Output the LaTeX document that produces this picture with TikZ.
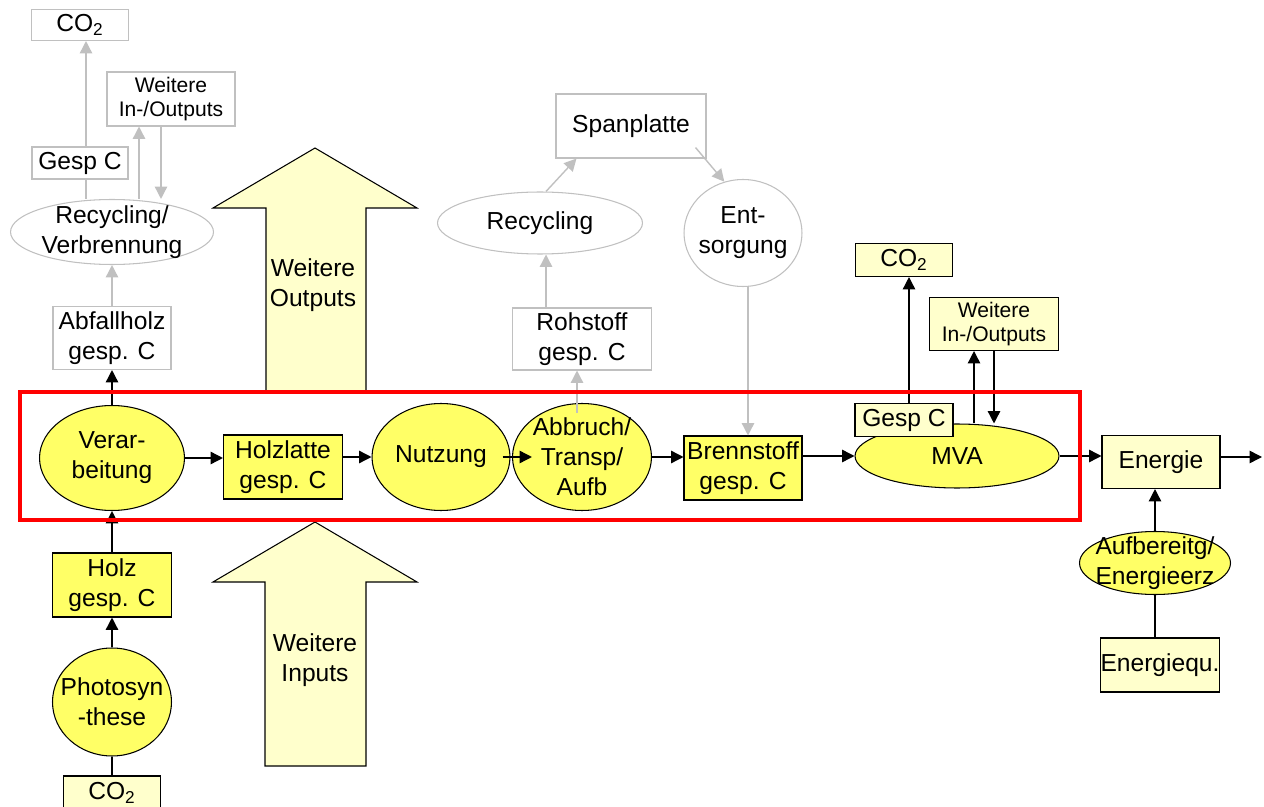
\documentclass[tikz,border=0pt]{standalone}
\usepackage{fontspec}
\setmainfont{Liberation Sans}
\usepackage{xcolor}
\usepackage{tikz}
\usetikzlibrary{arrows.meta,shapes.geometric}

\definecolor{hellgelb}{HTML}{FFFFCC}
\definecolor{gelb}{HTML}{FFFF66}
\definecolor{grau}{HTML}{C0C0C0}

\begin{document}
\begin{tikzpicture}[x=0.02cm,y=-0.02cm,>={Triangle[length=7pt,width=7pt]},
  every node/.style={font=\fontsize{14}{17}\selectfont,align=center,inner sep=0pt},
  grbox/.style={draw=grau,line width=0.6pt,fill=white,rectangle},
  grell/.style={draw=grau,line width=0.6pt,fill=white,ellipse},
  gbox/.style={draw=black,line width=0.6pt,fill=gelb,rectangle},
  gell/.style={draw=black,line width=0.6pt,fill=gelb,ellipse},
  hbox/.style={draw=black,line width=0.6pt,fill=hellgelb,rectangle},
  klein/.style={font=\fontsize{12}{14}\selectfont},
  pf/.style={->,line width=0.8pt},
  grpf/.style={->,draw=grau,line width=0.8pt}]
\useasboundingbox (0,0) rectangle (1264,807);
\clip (0,0) rectangle (1264,807);
% grosse Pfeile
\draw[fill=hellgelb,line width=0.6pt] (266,392)--(266,208)--(213,208)--(315,148)--(417,208)--(366,208)--(366,392)--cycle;
\draw (313,285) node (outtxt) {Weitere\\Outputs};
\draw[fill=hellgelb,line width=0.6pt] (265,766)--(265,582)--(213,582)--(315,522)--(417,582)--(366,582)--(366,766)--cycle;
\draw (315,660) node (intxt) {Weitere\\Inputs};
% oben links (grau)
\draw (80,25) node (co2a) [grbox,minimum width=1.94cm,minimum height=0.62cm] {CO\textsubscript{2}};
\draw (171,99) node (weia) [grbox,klein,minimum width=2.56cm,minimum height=1.08cm] {Weitere\\In-/Outputs};
\draw (80,163) node (gespa) [grbox,minimum width=1.92cm,minimum height=0.64cm] {Gesp C};
\draw (112,232) node (recyclA) [grell,minimum width=4.06cm,minimum height=1.3cm,label={center:Recycling/\\Verbrennung}] {};
\draw (112,338) node (abfall) [grbox,minimum width=2.36cm,minimum height=1.26cm] {Abfallholz\\gesp. C};
% oben Mitte (grau)
\draw (631,126) node (spanpl) [grbox,minimum width=3cm,minimum height=1.28cm] {Spanplatte};
\draw (540,223) node (recyclB) [grell,minimum width=4.1cm,minimum height=1.24cm,label={center:Recycling}] {};
\draw (743,233) node (entsorg) [grell,minimum width=2.36cm,minimum height=2.14cm,label={center:Ent-\\sorgung}] {};
\draw (582,339) node (rohst) [grbox,minimum width=2.78cm,minimum height=1.24cm] {Rohstoff\\gesp. C};
% Hauptkette
\draw (112,458) node (verarb) [gell,minimum width=2.9cm,minimum height=2.1cm,label={center:Verar-\\beitung}] {};
\draw (283,467) node (holzl) [gbox,minimum width=2.38cm,minimum height=1.28cm] {Holzlatte\\gesp. C};
\draw (441,457) node (nutz) [gell,minimum width=2.76cm,minimum height=2.14cm,label={center:Nutzung}] {};
\draw (582,457) node (abbr) [gell,minimum width=2.78cm,minimum height=2.14cm,label={center:Abbruch/\\Transp/\\Aufb}] {};
\draw (743,468) node (brenn) [gbox,minimum width=2.36cm,minimum height=1.28cm] {Brennstoff\\gesp. C};
\draw (957,456) node (mva) [gell,minimum width=4.08cm,minimum height=1.28cm,label={center:MVA}] {};
\draw (904,420) node (gespb) [hbox,minimum width=1.96cm,minimum height=0.66cm] {Gesp C};
\draw (904,260) node (co2b) [hbox,minimum width=1.94cm,minimum height=0.66cm] {CO\textsubscript{2}};
\draw (994,324) node (weib) [hbox,klein,minimum width=2.58cm,minimum height=1.06cm] {Weitere\\In-/Outputs};
\draw (1161,462) node (energie) [hbox,minimum width=2.36cm,minimum height=1.06cm] {Energie};
\draw (1155,563) node (aufb) [gell,minimum width=3.02cm,minimum height=1.26cm,label={center:Aufbereitg/\\Energieerz}] {};
\draw (1160,665) node (energq) [hbox,minimum width=2.36cm,minimum height=1.08cm] {Energiequ.};
\draw (1262,457) coordinate (aus);
% unten links
\draw (112,585) node (holz) [gbox,minimum width=2.38cm,minimum height=1.28cm] {Holz\\gesp. C};
\draw (112,702) node (photo) [gell,minimum width=2.38cm,minimum height=2.16cm,label={center:Photosyn\\-these}] {};
\draw (112,793) node (co2c) [hbox,minimum width=1.94cm,minimum height=0.68cm] {CO\textsubscript{2}};
% graue Pfeile
\draw[grpf] ([xshift=0.12cm]gespa.north) -- ([xshift=0.12cm]co2a.south);
\draw[draw=grau,line width=0.8pt] ([xshift=0.12cm]gespa.south) -- ([xshift=0.12cm]gespa.south |- recyclA.north);
\draw[grpf] ([xshift=-0.64cm]weia.south |- recyclA.north) -- ([xshift=-0.64cm]weia.south);
\draw[grpf] ([xshift=-0.2cm]weia.south) -- ([xshift=-0.2cm]weia.south |- recyclA.north);
\draw[grpf] (abfall.north) -- (recyclA.south);
\draw[grpf] ([xshift=-0.72cm]rohst.north) -- ([xshift=-0.72cm]rohst.north |- recyclB.south);
\draw[grpf] ([xshift=0.12cm]recyclB.north) -- ([xshift=0.42cm]spanpl.south west);
\draw[grpf] ([xshift=-0.22cm,yshift=0.22cm]spanpl.south east) -- (entsorg.110);
\draw[grpf] ([xshift=0.1cm]entsorg.south) -- ([xshift=0.1cm]entsorg.south |- brenn.north);
\draw[grpf] ([xshift=-0.1cm,yshift=-0.2cm]abbr.north) -- ([xshift=-0.1cm]rohst.south);
% schwarze Pfeile
\draw[pf] (verarb.north) -- (abfall.south);
\draw[pf] (holz.north) -- (verarb.south);
\draw[pf] (photo.north) -- (holz.south);
\draw[line width=0.8pt] (co2c.north) -- (photo.south);
\draw[pf] (verarb.east) -- (verarb.east -| holzl.west);
\draw[pf] (nutz.west -| holzl.east) -- (nutz.west);
\draw[pf] ([xshift=-0.16cm]nutz.east) -- ([xshift=0.4cm]abbr.west);
\draw[pf] (abbr.east) -- (abbr.east -| brenn.west);
\draw[pf] (mva.west -| brenn.east) -- (mva.west);
\draw[pf] ([xshift=0.1cm]gespb.north) -- ([xshift=0.1cm]co2b.south);
\draw[pf] ([xshift=-0.4cm]weib.south |- mva.north) -- ([xshift=-0.4cm]weib.south);
\draw[pf] (weib.south) -- (weib.south |- mva.north);
\draw[pf] (mva.east) -- (mva.east -| energie.west);
\draw[pf] (energie.east |- aus) -- (aus);
\draw[pf] (aufb.north) -- (aufb.north |- energie.south);
\draw[line width=0.8pt] (aufb.south) -- (aufb.south |- energq.north);
% Systemgrenze
\draw[red,line width=2.3pt] (20,392) rectangle (1080,520);
\end{tikzpicture}
\end{document}
